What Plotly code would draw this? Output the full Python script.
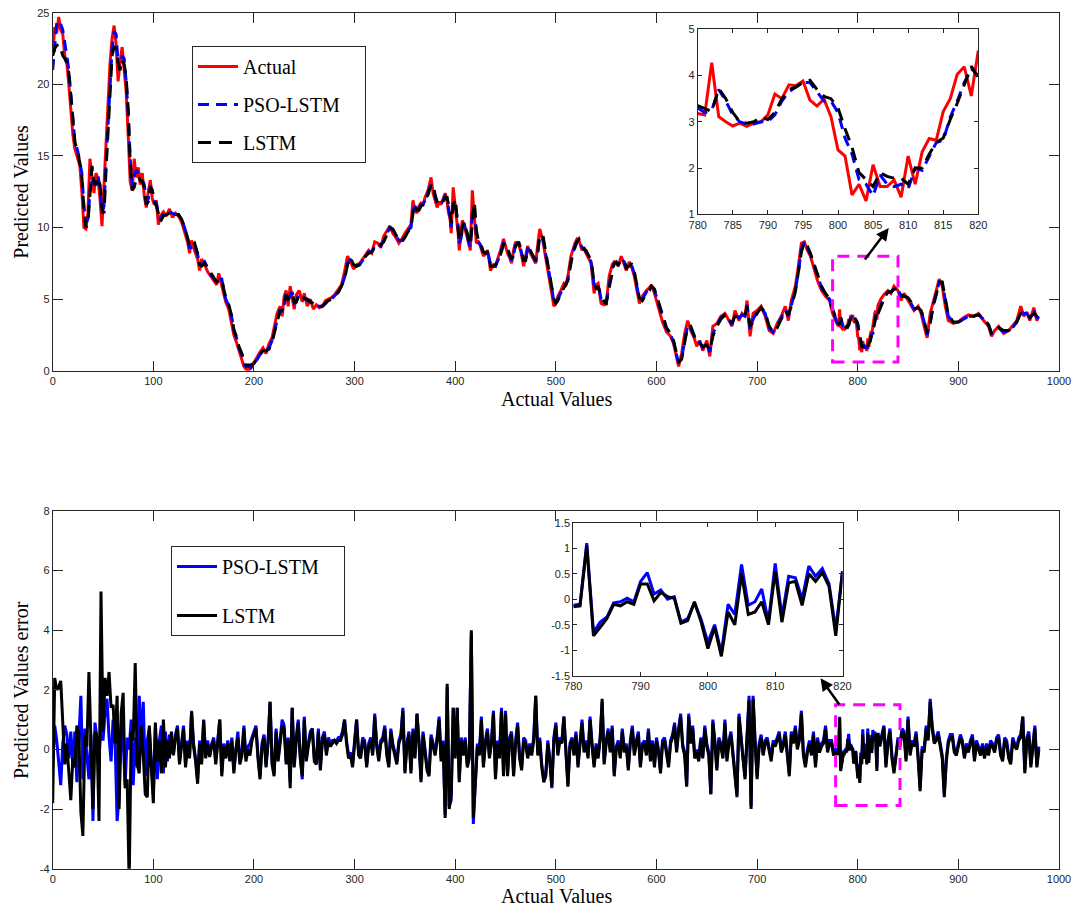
import plotly.graph_objects as go

# ------------------------------------------------------------------
# Top panel data: actual series and the two model predictions
# ------------------------------------------------------------------
x_part1 = [
    0, 2, 4, 6, 8, 10, 12, 14, 16, 18,
    20, 22, 25, 27, 29, 31, 33, 35, 37, 39,
    41, 43, 45, 47, 49, 51, 53, 55, 57, 59,
    61, 63, 65, 67, 69, 71, 73, 75, 77, 79,
    81, 83, 85, 87, 89, 91, 93, 95, 97, 99,
    101, 103, 105, 107, 110, 113, 116, 119, 122, 125,
    128, 131, 134, 136, 138, 141, 144, 146, 148, 151,
    154, 157, 160, 163, 165, 168, 170, 172, 175, 178,
    180, 183, 185, 188, 190, 192, 195, 197, 200, 203,
    206, 209, 212, 215, 218, 220, 223, 226, 228, 230,
    232, 234, 236, 238, 240, 242, 245, 248, 250, 253,
    256, 259, 262, 265, 268, 271, 274, 277, 280, 284,
    287, 290, 293, 296, 299, 302, 305, 308, 311, 314,
    317, 320, 323, 326, 329, 332, 335, 338, 341, 344,
    347, 350, 353, 356, 358, 360, 362, 364, 366, 368,
    370, 373, 376, 378, 380, 382, 384, 386, 388, 390,
    392, 393, 395, 396, 398, 400, 401, 403, 404, 406,
    407, 409, 410, 412, 413, 415, 417, 419, 421, 423,
    425, 428, 430, 432, 434, 435, 438, 440, 443, 445,
    448, 450, 452, 454, 456, 458, 460, 463, 465, 468,
    470, 472, 474, 476, 478, 480, 482, 484, 487, 490,
    493, 496, 498, 500, 502, 505, 508, 510, 512, 515,
    517, 519, 521, 523, 526, 528, 530, 533, 535, 538,
    540, 542, 545, 548, 550, 553, 556, 558, 560, 562,
    565, 568, 570, 573, 575, 578, 580, 583, 586, 590,
    593, 595, 598, 602, 606, 610, 614, 617, 620, 622,
    625, 628, 631, 634, 637, 640, 643, 646, 650, 653,
    656, 660, 664, 668, 672, 675, 678, 682, 685, 688,
    690, 693, 696, 700, 704, 708, 712, 716, 720, 724,
    728, 731, 734, 738, 741, 744, 747, 750, 753, 756,
    760, 764, 768, 772, 775, 778,
]
actual_part1 = [
    22.0, 24.0, 23.6, 24.7, 23.8, 23.5, 22.0, 21.5, 20.0, 18.0,
    16.5, 15.5, 14.8, 14.3, 12.5, 10.0, 9.9, 11.0, 14.8, 13.5,
    12.4, 13.8, 13.4, 12.0, 10.1, 13.0, 16.0, 18.5, 21.5, 23.2,
    24.1, 22.8, 20.2, 21.6, 22.6, 21.0, 19.5, 16.5, 13.2, 12.6,
    14.8, 13.5, 14.2, 13.0, 13.8, 12.2, 11.4, 12.5, 13.3, 12.0,
    11.6, 11.9, 10.2, 10.8, 11.1, 10.8, 11.3, 10.7, 11.0, 10.8,
    10.4, 9.7, 9.0, 8.2, 9.1, 8.4, 7.8, 7.0, 7.8, 7.4,
    6.9, 6.6, 6.3, 6.0, 6.8, 6.0, 5.3, 4.8, 4.3, 3.2,
    2.5, 1.9, 1.4, 0.8, 0.3, 0.1, 0.05, 0.2, 0.6, 0.9,
    1.3, 1.6, 1.2, 1.9, 2.3, 3.0, 4.0, 4.5, 3.8, 5.2,
    5.6, 4.5, 5.9, 5.1, 4.3, 5.3, 5.6, 4.8, 5.4, 4.5,
    5.0, 4.3, 4.6, 4.4, 4.5, 4.9, 5.0, 5.1, 5.3, 5.7,
    6.0, 6.9, 8.0, 7.6, 7.1, 7.4, 7.5, 7.8, 8.1, 8.4,
    8.2, 9.0, 8.9, 8.6, 9.4, 9.8, 10.1, 9.6, 9.3, 8.9,
    9.2, 9.6, 9.9, 10.2, 11.9, 11.2, 11.0, 11.5, 11.7, 11.6,
    12.1, 12.6, 13.5, 12.4, 11.9, 11.4, 11.8, 11.6, 12.0, 12.4,
    11.8, 11.2, 10.5, 9.6, 12.8, 11.5, 11.0, 9.5, 8.4, 9.8,
    10.5, 10.2, 9.8, 9.3, 8.9, 8.4, 12.6, 10.8, 8.9, 9.0,
    8.7, 8.0, 8.2, 8.4, 7.6, 7.0, 7.4, 7.3, 8.0, 8.4,
    9.2, 8.6, 8.2, 7.9, 7.5, 8.4, 9.0, 8.8, 8.4, 7.3,
    8.0, 8.7, 8.3, 8.0, 7.8, 7.5, 8.8, 9.9, 9.1, 7.7,
    6.6, 5.4, 4.5, 4.8, 5.2, 5.6, 6.1, 6.0, 6.6, 8.0,
    8.5, 8.9, 9.2, 9.1, 8.4, 8.6, 8.2, 7.8, 7.5, 5.4,
    6.0, 6.1, 4.7, 4.6, 4.7, 6.6, 7.4, 7.6, 7.5, 7.3,
    8.0, 7.4, 7.0, 7.6, 7.3, 6.6, 5.9, 4.7, 5.2, 5.6,
    5.8, 6.0, 5.4, 4.4, 3.4, 2.7, 2.4, 1.9, 0.8, 0.3,
    1.2, 2.6, 3.5, 2.8, 2.4, 1.7, 2.1, 1.4, 2.1, 1.0,
    3.1, 3.3, 3.8, 4.0, 3.5, 3.1, 4.2, 3.5, 4.0, 3.8,
    4.9, 2.4, 4.0, 4.2, 4.5, 3.8, 2.8, 2.6, 3.3, 3.8,
    4.5, 3.5, 4.9, 5.9, 7.3, 8.9, 9.0, 8.4, 8.0, 7.3,
    6.3, 5.6, 5.2, 4.9, 4.0, 3.5,
]
pso_part1 = [
    21.0, 23.0, 24.3, 24.0, 24.2, 23.8, 23.0, 22.0, 21.0, 19.2,
    17.5, 16.0, 15.3, 14.6, 13.8, 11.5, 10.3, 10.6, 12.5, 14.2,
    13.0, 13.0, 13.6, 12.8, 11.0, 11.5, 14.5, 17.2, 20.0, 22.5,
    23.7, 23.5, 21.5, 21.0, 22.0, 21.8, 20.2, 18.0, 14.8, 12.9,
    13.6, 14.0, 13.8, 13.6, 13.3, 13.0, 11.8, 12.0, 12.9, 12.6,
    11.8, 11.7, 11.0, 10.5, 11.0, 11.0, 11.1, 11.0, 10.9, 10.9,
    10.6, 10.0, 9.3, 8.6, 8.6, 8.8, 8.1, 7.4, 7.4, 7.6,
    7.1, 6.7, 6.5, 6.1, 6.4, 6.4, 5.6, 5.0, 4.5, 3.7,
    2.8, 2.2, 1.6, 1.1, 0.5, 0.3, 0.3, 0.2, 0.4, 0.8,
    1.1, 1.5, 1.4, 1.6, 2.1, 2.6, 3.5, 4.3, 4.1, 4.6,
    5.4, 5.0, 5.3, 5.5, 4.7, 4.8, 5.4, 5.2, 5.1, 4.9,
    4.8, 4.6, 4.5, 4.5, 4.5, 4.7, 5.0, 5.0, 5.2, 5.5,
    5.9, 6.5, 7.5, 7.8, 7.3, 7.3, 7.4, 7.7, 8.0, 8.3,
    8.3, 8.7, 8.9, 8.7, 9.1, 9.6, 10.0, 9.8, 9.4, 9.1,
    9.1, 9.4, 9.8, 10.0, 11.2, 11.5, 11.1, 11.3, 11.6, 11.6,
    11.9, 12.4, 13.0, 12.8, 12.1, 11.6, 11.6, 11.7, 11.9, 12.2,
    12.0, 11.5, 10.8, 10.0, 11.8, 11.8, 11.2, 10.0, 8.9, 9.3,
    10.1, 10.3, 9.9, 9.5, 9.1, 8.6, 11.0, 11.5, 9.5, 9.0,
    8.8, 8.2, 8.2, 8.3, 7.8, 7.2, 7.3, 7.3, 7.8, 8.2,
    8.9, 8.8, 8.4, 8.0, 7.7, 8.1, 8.8, 8.9, 8.5, 7.6,
    7.8, 8.5, 8.4, 8.1, 7.9, 7.6, 8.4, 9.5, 9.3, 8.1,
    7.0, 5.8, 4.8, 4.7, 5.0, 5.5, 5.9, 6.0, 6.4, 7.6,
    8.3, 8.7, 9.1, 9.1, 8.6, 8.5, 8.3, 7.9, 7.6, 6.0,
    5.8, 6.0, 5.0, 4.7, 4.7, 6.0, 7.1, 7.5, 7.5, 7.4,
    7.8, 7.6, 7.1, 7.4, 7.4, 6.8, 6.1, 5.0, 5.0, 5.5,
    5.7, 5.9, 5.6, 4.7, 3.7, 2.9, 2.5, 2.0, 1.1, 0.5,
    0.9, 2.2, 3.2, 3.0, 2.5, 1.9, 2.0, 1.6, 1.9, 1.3,
    2.6, 3.2, 3.7, 3.9, 3.6, 3.2, 3.9, 3.7, 3.9, 3.8,
    4.6, 2.9, 3.6, 4.1, 4.4, 4.0, 3.0, 2.7, 3.1, 3.7,
    4.3, 3.8, 4.6, 5.6, 6.9, 8.5, 9.0, 8.6, 8.1, 7.5,
    6.6, 5.8, 5.3, 5.0, 4.2, 3.6,
]
lstm_part1 = [
    22.0, 22.5, 22.7, 22.8, 22.5, 22.0, 21.8, 21.5, 20.8, 19.0,
    17.3, 16.0, 15.2, 14.5, 13.5, 11.3, 10.0, 10.3, 12.3, 14.3,
    13.2, 13.0, 13.5, 13.0, 11.2, 11.0, 14.0, 16.8, 19.5, 22.0,
    22.6, 22.5, 21.5, 21.0, 21.6, 21.4, 20.5, 18.3, 14.5, 12.6,
    12.8, 13.4, 13.6, 13.3, 13.2, 12.8, 11.6, 11.8, 12.8, 12.6,
    11.8, 11.5, 11.0, 10.4, 10.8, 10.9, 11.0, 10.9, 10.8, 10.9,
    10.6, 10.0, 9.3, 8.6, 8.7, 8.9, 8.2, 7.4, 7.3, 7.5,
    7.2, 6.8, 6.5, 6.2, 6.3, 6.4, 5.7, 5.1, 4.6, 3.8,
    2.9, 2.3, 1.7, 1.2, 0.6, 0.4, 0.4, 0.4, 0.5, 0.8,
    1.1, 1.4, 1.4, 1.5, 2.0, 2.5, 3.4, 4.2, 4.2, 4.6,
    5.3, 5.0, 5.2, 5.4, 4.8, 4.8, 5.3, 5.3, 5.0, 5.0,
    4.8, 4.7, 4.5, 4.5, 4.5, 4.7, 4.9, 5.0, 5.2, 5.5,
    5.9, 6.4, 7.4, 7.9, 7.4, 7.3, 7.4, 7.6, 8.0, 8.2,
    8.3, 8.6, 8.9, 8.8, 9.0, 9.5, 10.0, 9.9, 9.5, 9.1,
    9.0, 9.3, 9.7, 10.0, 11.0, 11.6, 11.2, 11.2, 11.5, 11.6,
    11.9, 12.3, 13.0, 13.0, 12.3, 11.8, 11.6, 11.7, 11.8, 12.1,
    12.1, 11.7, 11.0, 10.3, 11.5, 12.0, 11.3, 10.3, 9.1, 9.2,
    10.0, 10.4, 10.0, 9.6, 9.2, 8.8, 10.5, 11.8, 9.8, 9.1,
    8.9, 8.3, 8.2, 8.3, 7.9, 7.3, 7.3, 7.4, 7.8, 8.1,
    8.8, 8.9, 8.5, 8.1, 7.8, 8.0, 8.7, 9.0, 8.6, 7.7,
    7.7, 8.4, 8.5, 8.2, 7.9, 7.7, 8.2, 9.4, 9.5, 8.3,
    7.1, 6.0, 5.0, 4.7, 4.9, 5.4, 5.8, 6.0, 6.3, 7.5,
    8.2, 8.6, 9.0, 9.2, 8.7, 8.5, 8.4, 8.0, 7.7, 6.2,
    5.7, 5.9, 5.2, 4.8, 4.7, 5.8, 7.0, 7.5, 7.6, 7.4,
    7.7, 7.7, 7.2, 7.3, 7.5, 6.9, 6.2, 5.1, 4.9, 5.4,
    5.6, 5.9, 5.7, 4.8, 3.8, 3.0, 2.6, 2.1, 1.2, 0.6,
    0.8, 2.0, 3.1, 3.1, 2.6, 2.0, 1.9, 1.7, 1.8, 1.4,
    2.4, 3.1, 3.6, 3.9, 3.7, 3.3, 3.8, 3.8, 3.8, 3.9,
    4.5, 3.1, 3.4, 4.0, 4.4, 4.1, 3.1, 2.7, 3.0, 3.6,
    4.2, 3.9, 4.5, 5.5, 6.8, 8.3, 9.0, 8.7, 8.2, 7.6,
    6.7, 5.9, 5.4, 5.0, 4.3, 3.7,
]

# zoomed window 780..820 (one value per step)
x_zoom = list(range(780, 821))
actual_zoom = [
    3.18, 3.15, 4.28, 3.11, 3.0, 2.91, 2.97, 2.9, 2.97, 3.0,
    3.15, 3.6, 3.5, 3.8, 3.78, 3.88, 3.47, 3.34, 3.49, 3.11,
    2.39, 2.26, 1.42, 1.65, 1.29, 2.07, 1.6, 1.6, 1.74, 1.37,
    2.26, 1.65, 2.35, 2.64, 2.6, 3.22, 3.5, 4.03, 4.19, 3.56,
    4.54,
]
pso_zoom = [
    3.3, 3.2, 3.25, 3.7, 3.45, 3.15, 3.0, 2.95, 2.95, 3.0,
    3.0, 3.15, 3.45, 3.65, 3.75, 3.85, 3.85, 3.65, 3.45, 3.45,
    3.2, 2.65, 2.3, 1.75, 1.65, 1.4, 1.85, 1.65, 1.6, 1.65,
    1.55, 2.0, 1.95, 2.25, 2.55, 2.6, 3.1, 3.45, 3.85, 4.15,
    4.0,
]
lstm_zoom = [
    3.35, 3.28, 3.22, 3.72, 3.5, 3.2, 3.0, 2.97, 3.0, 3.1,
    3.05, 3.2, 3.5, 3.7, 3.75, 3.85, 3.9, 3.7, 3.55, 3.5,
    3.3, 2.85, 2.45, 1.9, 1.75, 1.6, 1.9, 1.82, 1.78, 1.78,
    1.65, 2.0, 2.0, 2.3, 2.55, 2.65, 3.05, 3.4, 3.8, 4.2,
    3.95,
]

x_part2 = [
    823, 826, 830, 833, 836, 840, 843, 846, 850, 853,
    856, 860, 863, 866, 869, 872, 875, 878, 881, 884,
    887, 890, 895, 900, 905, 910, 915, 920, 925, 930,
    933, 936, 940, 945, 950, 955, 958, 962, 965, 968,
    971, 975, 978, 980,
]
actual_part2 = [
    5.0, 5.3, 5.6, 5.4, 5.9, 5.6, 4.9, 5.4, 4.9, 4.5,
    4.2, 4.5, 4.0, 3.1, 2.3, 4.0, 4.9, 5.6, 6.4, 5.9,
    4.5, 3.5, 3.3, 3.4, 3.7, 3.9, 3.8, 4.0, 3.5, 3.1,
    2.4, 2.8, 3.1, 2.6, 2.8, 3.2, 3.5, 4.5, 3.8, 4.1,
    3.5, 4.4, 3.5, 3.8,
]
pso_part2 = [
    4.6, 5.1, 5.5, 5.5, 5.7, 5.7, 5.2, 5.2, 5.1, 4.7,
    4.3, 4.4, 4.2, 3.4, 2.5, 3.4, 4.6, 5.4, 6.2, 6.1,
    4.9, 3.8, 3.4, 3.4, 3.6, 3.8, 3.8, 3.9, 3.6, 3.2,
    2.6, 2.7, 3.0, 2.7, 2.8, 3.1, 3.4, 4.1, 4.0, 4.0,
    3.7, 4.1, 3.7, 3.7,
]
lstm_part2 = [
    4.5, 5.0, 5.5, 5.5, 5.7, 5.7, 5.3, 5.2, 5.1, 4.8,
    4.3, 4.4, 4.2, 3.5, 2.6, 3.3, 4.5, 5.3, 6.2, 6.2,
    5.0, 3.9, 3.4, 3.4, 3.6, 3.8, 3.8, 3.9, 3.7, 3.2,
    2.6, 2.7, 3.0, 2.8, 2.8, 3.1, 3.4, 4.0, 4.0, 4.0,
    3.7, 4.0, 3.8, 3.7,
]

# ------------------------------------------------------------------
# Bottom panel data: prediction errors (every 2 steps, 1 step in zoom)
# ------------------------------------------------------------------
err_x_part1 = list(range(0, 779, 2))
err_pso_part1 = [
    -0.5, 0.8, 0.3, -0.4, -1.2, 0.2, 0.8, 0.5, -0.3, 0.6, -0.6, 0.6, -1.1, 0.4, 1.8,
    -1.0, 0.7, -0.2, -1.0, 0.5, -2.4, 0.9, 0.4, -0.3, 0.9, 0.3, 1.2, 1.7, 0.4, -0.4,
    1.0, 0.3, -2.4, -1.6, 0.8, 0.3, -1.2, 0.4, 0.0, 1.0, -1.2, 0.4, -0.6, 1.8, 0.2,
    1.6, -0.9, 0.3, 0.7, -0.4, -1.5, 0.7, -1.0, 0.3, 0.8, -0.8, 0.6, -0.4, 0.5, -0.1,
    -0.1, 0.5, 0.8, -0.4, 0.3, 0.8, -0.5, 0.3, -0.2, 1.3, 0.2, -0.3, -1.0, 0.3, -0.4,
    1.0, -0.2, 0.3, -0.2, 0.2, 0.4, -0.4, 0.3, 1.0, -0.8, 0.2, -0.2, 0.3, -0.3, 0.4,
    -0.7, 0.1, 0.6, -0.4, -0.1, 0.8, -0.3, 0.1, 0.2, 0.4, 0.6, 0.8, -0.2, -0.9, 0.2,
    0.5, -0.5, 0.3, 1.6, -0.4, -0.8, 0.7, -0.3, 0.3, 1.0, 0.8, -0.4, 0.4, -1.1, 1.4,
    -0.5, 0.4, 1.0, -0.2, -1.0, 1.1, -0.3, 0.2, 0.6, 0.7, -0.3, -0.4, 0.7, -0.6, 0.4,
    0.6, -0.1, 0.4, 0.2, 0.3, 0.3, 0.3, 0.4, 0.4, 0.6, 1.0, 0.3, -0.2, -0.1, -0.5,
    0.3, 1.0, -0.1, -0.2, 0.4, 0.3, -0.5, 0.2, 0.4, -0.1, 1.2, 0.2, -0.3, 0.3, 0.4,
    0.8, -0.1, -0.5, 0.7, 0.2, -0.1, -0.4, 0.3, 0.5, 1.4, -0.7, 0.2, 0.6, -0.7, 0.7,
    -0.2, 1.2, 0.3, -1.0, 0.6, 0.0, -0.6, -0.8, 0.5, 0.2, -0.1, 0.4, 1.1, -0.3, 0.3,
    -2.2, 2.1, -1.9, -1.7, 1.4, -0.2, 1.4, -1.0, 0.4, -0.1, 0.4, -0.5, -0.2, 3.9, -2.5,
    -0.9, 0.2, -0.1, 1.1, -0.5, 0.3, 0.7, -0.2, 0.3, 1.3, -0.9, 0.3, -0.2, 1.4, -0.8,
    1.3, -0.8, 0.4, 0.6, -0.8, 0.3, 0.9, -0.2, -0.6, 0.4, 0.3, -0.2, 0.2, -0.1, 0.4,
    1.8, -0.1, 0.4, -0.5, -1.0, -0.8, 0.3, -0.3, -1.3, 0.4, 0.9, -0.1, 0.4, 0.3, 1.1,
    -0.2, -1.2, 0.2, 0.4, -0.1, 0.6, -0.5, 0.3, 1.0, 0.0, 0.3, -0.2, 1.1, 0.2, -0.5,
    0.2, -0.2, 0.4, 1.6, -0.4, 0.3, 0.7, 0.0, 0.8, -0.8, 0.1, 0.3, -0.2, 0.7, 0.0,
    0.2, -0.6, 0.3, 0.8, -0.1, 0.3, 0.6, -0.5, 0.2, 0.3, -0.1, 0.7, -0.3, 0.3, -0.5,
    0.4, 0.0, -0.7, 0.3, 0.4, 0.0, -0.5, 0.3, 0.5, 0.9, 0.0, 0.7, 1.2, 0.2, -0.1,
    -1.2, 1.2, 0.3, 0.8, -0.2, 0.0, -0.3, 0.4, -0.2, 0.8, 0.2, -0.1, -1.5, 1.0, 0.3,
    -0.6, 0.4, 0.2, -0.2, 1.0, -0.3, 0.3, 0.6, -0.1, -0.8, -1.5, 1.2, 0.4, -0.3, -0.9,
    0.5, 1.8, -1.9, 1.8, 0.3, -0.9, 0.2, 0.5, -0.1, 0.3, 0.4, 0.0, -0.3, 0.3, 0.2,
    0.4, 0.6, 0.0, 0.2, 0.6, -0.1, -0.8, 0.6, 0.3, 0.8, 0.1, 0.4, 1.3, -0.1, -0.5,
    0.0, 0.3, -0.1, 0.6, -0.5, 0.4, 0.0, 0.2, 0.3, 0.8, 0.0, 0.3, 0.3, -0.1, 0.0,
]
err_lstm_part1 = [
    -1.8, 2.4, 2.0, 2.1, 2.3, 0.9, -0.5, 0.2, -0.9, -1.7, -0.3, -0.6, 0.8, 0.5, -2.1,
    -2.9, 0.5, 0.1, 2.6, 0.5, -2.0, 0.6, 0.4, -2.4, 5.3, 0.6, 2.4, 1.8, 2.6, 1.4,
    1.5, 0.2, 1.8, -2.0, 1.2, 1.9, -1.3, -1.0, -4.5, 0.6, 0.3, 2.9, -0.5, -0.8, 0.8,
    -0.2, -1.5, -1.6, 0.8, -0.6, -1.8, 0.9, -0.4, 0.3, -0.8, 1.0, -0.6, 0.3, -0.3, 0.6,
    -0.2, 0.4, 0.7, -0.5, 0.2, 0.7, -0.6, 0.2, -0.3, 1.25, 0.1, -0.4, -1.15, 0.2, -0.5,
    0.97, -0.3, 0.2, -0.25, 0.1, 0.3, -0.5, 0.2, 1.0, -0.9, 0.1, -0.3, 0.2, -0.4, 0.3,
    -0.8, 0.0, 0.4, -0.5, -0.2, 0.7, -0.4, 0.0, -0.2, 0.3, 0.5, 0.7, -0.3, -1.0, 0.1,
    0.4, -0.6, 0.2, 1.6, -0.5, -0.9, 0.6, -0.4, 0.2, 0.8, 0.7, -0.5, 0.3, -1.3, 1.4,
    -0.6, 0.3, 0.9, -0.3, -0.9, 1.0, -0.4, 0.1, 0.5, 0.7, -0.4, -0.5, 0.6, -0.7, 0.3,
    0.5, -0.2, 0.3, 0.1, 0.2, 0.3, 0.2, 0.3, 0.3, 0.5, 1.0, 0.2, -0.3, -0.2, -0.6,
    0.2, 1.0, -0.2, -0.3, 0.3, 0.2, -0.6, 0.1, 0.3, -0.2, 1.1, 0.1, -0.4, 0.2, 0.3,
    0.7, -0.2, -0.6, 0.6, 0.1, -0.2, -0.5, 0.2, 0.4, 1.3, -0.8, 0.1, 0.5, -0.8, 0.6,
    -0.3, 1.2, 0.2, -1.1, 0.5, -0.1, -0.7, -0.9, 0.4, 0.1, -0.2, 0.3, 1.0, -0.4, 0.2,
    -2.3, 2.2, -2.0, -1.5, 1.4, -0.3, 1.4, -1.1, 0.3, -0.2, 0.3, -0.6, -0.3, 4.0, -2.3,
    -1.0, 0.1, -0.2, 1.0, -0.6, 0.2, 0.6, -0.3, 0.2, 1.2, -1.0, 0.2, -0.3, 1.3, -0.9,
    1.2, -0.9, 0.3, 0.5, -0.9, 0.2, 0.8, -0.3, -0.7, 0.3, 0.2, -0.3, 0.1, -0.2, 0.3,
    1.8, -0.2, 0.3, -0.6, -1.1, -0.9, 0.2, -0.4, -1.25, 0.3, 0.8, -0.2, 0.3, 0.2, 1.1,
    -0.3, -1.25, 0.1, 0.3, -0.2, 0.5, -0.6, 0.2, 0.9, -0.1, 0.2, -0.3, 1.0, 0.1, -0.6,
    0.1, -0.3, 0.3, 1.7, -0.5, 0.2, 0.6, -0.1, 0.7, -0.9, 0.0, 0.2, -0.3, 0.6, -0.1,
    0.1, -0.7, 0.2, 0.7, -0.2, 0.2, 0.5, -0.6, 0.1, 0.2, -0.2, 0.6, -0.4, 0.2, -0.6,
    0.3, -0.1, -0.8, 0.2, 0.3, -0.1, -0.6, 0.2, 0.4, 0.8, -0.1, 0.6, 1.1, 0.1, -0.2,
    -1.25, 1.1, 0.2, 0.7, -0.3, -0.1, -0.4, 0.3, -0.3, 0.7, 0.1, -0.2, -1.5, 0.9, 0.2,
    -0.7, 0.3, 0.1, -0.3, 0.9, -0.4, 0.2, 0.5, -0.2, -0.9, -1.6, 1.1, 0.3, -0.4, -1.0,
    0.4, 1.65, -2.0, 1.7, 0.2, -1.0, 0.1, 0.4, -0.2, 0.2, 0.3, -0.1, -0.4, 0.2, 0.1,
    0.3, 0.5, -0.1, 0.1, 0.5, -0.2, -0.9, 0.5, 0.2, 0.7, 0.0, 0.3, 1.2, -0.2, -0.6,
    -0.1, 0.2, -0.2, 0.5, -0.6, 0.3, -0.1, 0.1, 0.2, 0.7, -0.1, 0.2, 0.2, -0.2, -0.1,
]
err_pso_zoom = [
    -0.12, -0.1, 1.1, -0.65, -0.45, -0.35, -0.07, -0.05, 0.02, -0.05,
    0.35, 0.52, 0.1, 0.18, 0.0, 0.05, -0.45, -0.38, -0.07, -0.4,
    -0.85, -0.5, -1.05, -0.1, -0.3, 0.68, -0.12, -0.05, 0.2, -0.45,
    0.7, -0.35, 0.45, 0.42, 0.0, 0.65, 0.45, 0.6, 0.3, -0.6,
    0.55,
]
err_lstm_zoom = [
    -0.15, -0.13, 1.05, -0.72, -0.55, -0.38, -0.1, -0.13, -0.05, -0.1,
    0.3, 0.3, -0.03, 0.13, 0.05, 0.02, -0.47, -0.42, -0.05, -0.45,
    -0.97, -0.55, -1.12, -0.25, -0.5, 0.5, -0.3, -0.25, -0.05, -0.5,
    0.55, -0.45, 0.32, 0.35, -0.12, 0.5, 0.35, 0.52, 0.25, -0.72,
    0.55,
]
err_x_part2 = list(range(822, 981, 2))
err_pso_part2 = [
    0.2, 0.5, 0.8, -0.5, 0.3, 0.7, -0.2, -0.7, -0.1, 0.4,
    0.2, 0.7, 0.6, -0.3, 1.1, -0.1, 0.3, 0.2, 0.6, -0.2,
    -1.3, 0.1, 0.0, 0.8, 0.4, 1.7, 0.8, 0.3, 0.4, 0.6,
    0.2, -0.2, -1.5, -0.3, 0.3, 0.5, 0.5, 0.0, -0.1, 0.2,
    0.5, 0.3, -0.2, 0.2, 0.0, 0.3, 0.5, -0.3, 0.3, 0.1,
    -0.1, 0.2, -0.2, 0.2, -0.1, 0.3, 0.2, 0.0, 0.4, 0.5,
    -0.1, -0.3, 0.4, 0.3, -0.2, -0.4, 0.4, 0.2, 0.1, 0.4,
    0.5, 1.1, -0.7, 0.4, 0.6, -0.5, 0.3, 0.8, -0.5, 0.1,
]
err_lstm_part2 = [
    0.1, 0.4, 0.75, -0.6, 0.2, 0.6, -0.3, -0.8, -0.2, 0.3,
    0.1, 0.6, 0.5, -0.4, 1.0, -0.2, 0.2, 0.1, 0.5, -0.3,
    -1.4, 0.0, -0.1, 0.7, 0.3, 1.6, 0.7, 0.2, 0.3, 0.5,
    0.1, -0.3, -1.6, -0.4, 0.2, 0.4, 0.4, -0.1, -0.2, 0.1,
    0.4, 0.2, -0.3, 0.1, -0.1, 0.2, 0.4, -0.4, 0.2, 0.0,
    -0.2, 0.1, -0.3, 0.1, -0.2, 0.2, 0.1, -0.1, 0.3, 0.4,
    -0.2, -0.4, 0.3, 0.2, -0.3, -0.5, 0.3, 0.1, 0.0, 0.3,
    0.4, 1.1, -0.8, 0.3, 0.5, -0.6, 0.2, 0.7, -0.6, 0.0,
]

for a, b in [(x_part1, actual_part1), (x_part1, pso_part1), (x_part1, lstm_part1),
             (x_zoom, actual_zoom), (x_zoom, pso_zoom), (x_zoom, lstm_zoom),
             (x_part2, actual_part2), (x_part2, pso_part2), (x_part2, lstm_part2),
             (err_x_part1, err_pso_part1), (err_x_part1, err_lstm_part1),
             (x_zoom, err_pso_zoom), (x_zoom, err_lstm_zoom),
             (err_x_part2, err_pso_part2), (err_x_part2, err_lstm_part2)]:
    assert len(a) == len(b), (len(a), len(b))

x_all = x_part1 + x_zoom + x_part2
actual_all = actual_part1 + actual_zoom + actual_part2
pso_all = pso_part1 + pso_zoom + pso_part2
lstm_all = lstm_part1 + lstm_zoom + lstm_part2

err_x_all = err_x_part1 + x_zoom + err_x_part2
err_pso_all = err_pso_part1 + err_pso_zoom + err_pso_part2
err_lstm_all = err_lstm_part1 + err_lstm_zoom + err_lstm_part2

bottom_yticks = [-4, -2, 0, 2, 4, 6, 8]
inset_err_yticks = [-1.5, -1, -0.5, 0, 0.5, 1, 1.5]


def tick_text(vals):
    return ["%g" % v for v in vals]


# ------------------------------------------------------------------
# Figure (page body margin is removed by a post script, so the figure
# fills the whole 1087x910 window)
# ------------------------------------------------------------------
W, H = 1087, 910
RED, BLUE, BLACK, MAGENTA = "#FF0000", "#0000FF", "#000000", "#FF00FF"
SERIF = "Liberation Serif"
NBSP = "\u00a0"

fig = go.Figure()

# top main panel
fig.add_trace(go.Scatter(x=x_all, y=actual_all, mode="lines", name="Actual",
                         line=dict(color=RED, width=3), legend="legend",
                         legendgroup="a", xaxis="x", yaxis="y"))
fig.add_trace(go.Scatter(x=x_all, y=pso_all, mode="lines", name="PSO-LSTM" + NBSP * 4,
                         line=dict(color=BLUE, width=3, dash="11px,7px"),
                         legend="legend", legendgroup="b", xaxis="x", yaxis="y"))
fig.add_trace(go.Scatter(x=x_all, y=lstm_all, mode="lines", name="LSTM",
                         line=dict(color=BLACK, width=3, dash="13px,8px"),
                         legend="legend", legendgroup="c", xaxis="x", yaxis="y"))

# bottom main panel
fig.add_trace(go.Scatter(x=err_x_all, y=err_pso_all, mode="lines",
                         name="PSO-LSTM" + NBSP * 4,
                         line=dict(color=BLUE, width=3), legend="legend2",
                         legendgroup="d", xaxis="x2", yaxis="y2"))
fig.add_trace(go.Scatter(x=err_x_all, y=err_lstm_all, mode="lines", name="LSTM",
                         line=dict(color=BLACK, width=3), legend="legend2",
                         legendgroup="e", xaxis="x2", yaxis="y2"))

# top inset
fig.add_trace(go.Scatter(x=x_zoom, y=actual_zoom, mode="lines", showlegend=False,
                         line=dict(color=RED, width=3), xaxis="x3", yaxis="y3"))
fig.add_trace(go.Scatter(x=x_zoom, y=pso_zoom, mode="lines", showlegend=False,
                         line=dict(color=BLUE, width=3, dash="11px,7px"),
                         xaxis="x3", yaxis="y3"))
fig.add_trace(go.Scatter(x=x_zoom, y=lstm_zoom, mode="lines", showlegend=False,
                         line=dict(color=BLACK, width=3, dash="13px,8px"),
                         xaxis="x3", yaxis="y3"))

# bottom inset
fig.add_trace(go.Scatter(x=x_zoom, y=err_pso_zoom, mode="lines", showlegend=False,
                         line=dict(color=BLUE, width=3), xaxis="x4", yaxis="y4"))
fig.add_trace(go.Scatter(x=x_zoom, y=err_lstm_zoom, mode="lines", showlegend=False,
                         line=dict(color=BLACK, width=3), xaxis="x4", yaxis="y4"))


def px_x(p):
    return p / W


def px_y(p):
    return 1 - p / H


axis_common = dict(showline=True, linecolor="#262626", linewidth=1, mirror="ticks",
                   ticks="inside", tickcolor="#262626", showgrid=False, zeroline=False,
                   automargin=False,
                   tickfont=dict(family="Liberation Sans", size=11, color="#262626"))

title_font = dict(family=SERIF, size=20, color="black")

fig.update_layout(
    width=W, height=H, autosize=False,
    margin=dict(l=0, r=0, t=0, b=0, autoexpand=False),
    paper_bgcolor="white", plot_bgcolor="white",
    font=dict(family="Liberation Sans", size=11, color="#262626"),
    xaxis=dict(domain=[px_x(52.7), px_x(1059)], anchor="y", range=[0, 1000],
               dtick=100, ticklen=10, **axis_common),
    yaxis=dict(domain=[px_y(370.7), px_y(12.7)], anchor="x", range=[0, 25],
               dtick=5, ticklen=10, **axis_common),
    xaxis2=dict(domain=[px_x(52.7), px_x(1059)], anchor="y2", range=[0, 1000],
                dtick=100, ticklen=10, **axis_common),
    yaxis2=dict(domain=[px_y(868.7), px_y(511)], anchor="x2", range=[-4, 8],
                tickvals=bottom_yticks, ticktext=tick_text(bottom_yticks), ticklen=10,
                **axis_common),
    xaxis3=dict(domain=[px_x(697.7), px_x(978.3)], anchor="y3", range=[780, 820],
                dtick=5, ticklen=4, **axis_common),
    yaxis3=dict(domain=[px_y(214.3), px_y(29.3)], anchor="x3", range=[1, 5],
                dtick=1, ticklen=4, **axis_common),
    xaxis4=dict(domain=[px_x(573.3), px_x(842.5)], anchor="y4", range=[780, 820],
                dtick=10, ticklen=4, **axis_common),
    yaxis4=dict(domain=[px_y(675.7), px_y(522.7)], anchor="x4", range=[-1.5, 1.5],
                tickvals=inset_err_yticks, ticktext=tick_text(inset_err_yticks),
                ticklen=4, **axis_common),
    legend=dict(x=px_x(192), y=px_y(46), xanchor="left", yanchor="top",
                bgcolor="white", bordercolor="#262626", borderwidth=1,
                font=dict(family=SERIF, size=20, color="black"),
                tracegroupgap=9, itemwidth=40),
    legend2=dict(x=px_x(171), y=px_y(546), xanchor="left", yanchor="top",
                 bgcolor="white", bordercolor="#262626", borderwidth=1,
                 font=dict(family=SERIF, size=20, color="black"),
                 tracegroupgap=20, itemwidth=40),
    shapes=[
        dict(type="rect", xref="x", yref="y", x0=775, x1=840, y0=0.6, y1=8,
             line=dict(color=MAGENTA, width=3, dash="12px,8px"), fillcolor="rgba(0,0,0,0)"),
        dict(type="rect", xref="x2", yref="y2", x0=778, x1=842, y0=-1.88, y1=1.5,
             line=dict(color=MAGENTA, width=3, dash="12px,8px"), fillcolor="rgba(0,0,0,0)"),
    ],
    annotations=[
        # axis titles
        dict(text="Actual Values", x=px_x(556), y=px_y(399), xref="paper", yref="paper",
             showarrow=False, font=title_font, xanchor="center", yanchor="middle"),
        dict(text="Predicted Values", x=px_x(21), y=px_y(191.7), xref="paper", yref="paper",
             showarrow=False, font=title_font, textangle=-90,
             xanchor="center", yanchor="middle"),
        dict(text="Actual Values", x=px_x(556), y=px_y(896), xref="paper", yref="paper",
             showarrow=False, font=title_font, xanchor="center", yanchor="middle"),
        dict(text="Predicted Values error", x=px_x(21), y=px_y(690), xref="paper",
             yref="paper", showarrow=False, font=title_font, textangle=-90,
             xanchor="center", yanchor="middle"),
        # zoom arrows
        dict(x=830.8, y=9.97, ax=806, ay=7.66, xref="x", yref="y", axref="x", ayref="y",
             text="", showarrow=True, arrowhead=2, arrowsize=1, arrowwidth=2.5,
             arrowcolor="black"),
        dict(x=763, y=2.39, ax=782.8, ay=1.46, xref="x2", yref="y2", axref="x2", ayref="y2",
             text="", showarrow=True, arrowhead=2, arrowsize=1, arrowwidth=2.5,
             arrowcolor="black"),
    ],
)

fig.write_html(
    "out.html",
    config={"displayModeBar": False},
    post_script="document.body.style.margin='0px';document.body.style.overflow='hidden';",
)
